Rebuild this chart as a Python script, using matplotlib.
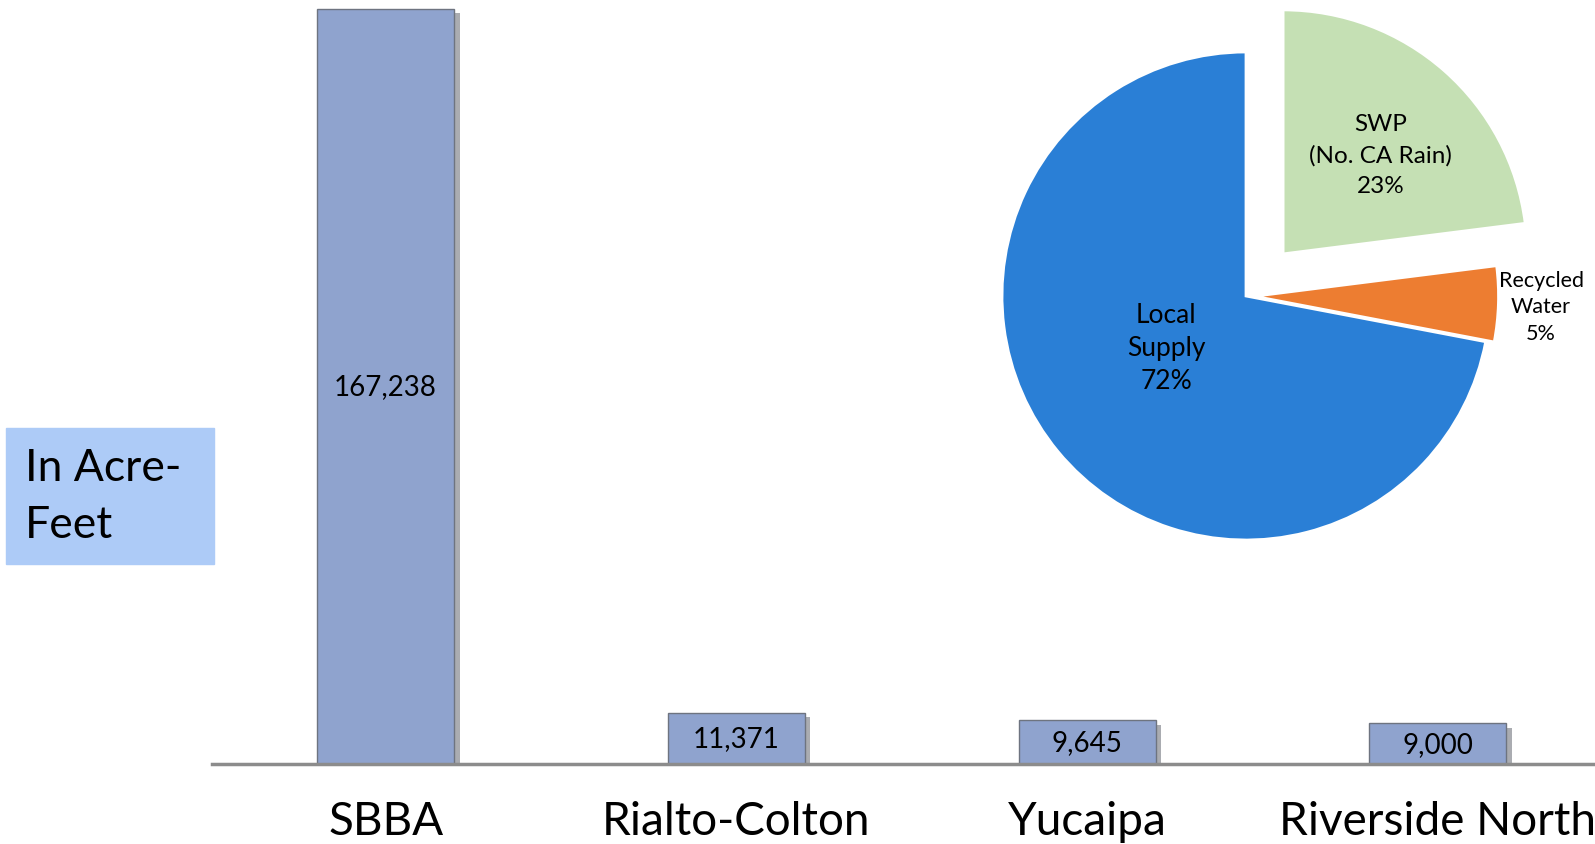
import matplotlib
matplotlib.use("Agg")
import matplotlib.pyplot as plt
import matplotlib.patheffects as pe
from matplotlib.patches import Rectangle
import numpy as np

# Donnees du graphique
basins = ["SBBA", "Rialto-Colton", "Yucaipa", "Riverside North"]
acre_feet = [167238, 11371, 9645, 9000]

sources = ["SWP\n(No. CA Rain)\n23%", "Recycled\nWater\n5%", "Local\nSupply\n72%"]
shares = [23, 5, 72]

W, H = 1595, 845
plt.rcParams["font.family"] = ["Lato", "DejaVu Sans"]
fig = plt.figure(figsize=(W / 100, H / 100), dpi=100)

# --- barres ---
ax = fig.add_axes([212 / W, (H - 765) / H, (W - 212) / W, 765 / H])
x = np.arange(len(basins))
bars = ax.bar(x, acre_feet, width=0.39, color="#8FA3CE", edgecolor="#6E7480", linewidth=1.0)
for b in bars:
    b.set_path_effects([pe.SimplePatchShadow(offset=(4, -3), alpha=0.4), pe.Normal()])
ax.bar_label(bars, labels=[f"{v:,}" for v in acre_feet], label_type="center", fontsize=20)
ax.set_xlim(-0.495, 3.448)
ax.set_ylim(0, 169400)
for s in ["top", "left", "right"]:
    ax.spines[s].set_visible(False)
ax.spines["bottom"].set_color("#8C8C8C")
ax.spines["bottom"].set_linewidth(2.5)
ax.set_yticks([])
ax.set_xticks(x)
ax.set_xticklabels(basins, fontsize=33)
ax.tick_params(axis="x", length=0, pad=26)

# --- camembert ---
R = 244
cx, cy = 1246, H - 297
half = 300
pax = fig.add_axes([(cx - half) / W, (cy - half) / H, 2 * half / W, 2 * half / H])
explode = [0.23, 0.035, 0.0]
wedges, _ = pax.pie(shares, colors=["#C5E0B4", "#ED7D31", "#2A7FD6"], startangle=90,
                    counterclock=False, explode=explode,
                    wedgeprops=dict(edgecolor="white", linewidth=2))
s = half / R
pax.set_xlim(-s, s)
pax.set_ylim(-s, s)
pax.set_aspect("equal")

# position des etiquettes (angle, rayon) depuis le centre du camembert
label_ang = [46.5, -2.0, 213.0]
label_r = [0.80, 1.21, 0.39]
label_fs = [17.5, 15.5, 19]
label_ls = [1.55, 1.4, 1.4]
for txt, a, r, fs, ls in zip(sources, label_ang, label_r, label_fs, label_ls):
    t = np.deg2rad(a)
    pax.text(r * np.cos(t), r * np.sin(t), txt, ha="center", va="center",
             fontsize=fs, linespacing=ls)

# --- encadre unite ---
fig.patches.append(Rectangle((6 / W, (H - 565) / H), 208 / W, 136 / H,
                             transform=fig.transFigure, color="#ADCBF7", zorder=0))
fig.text(25 / W, (H - 448) / H, "In Acre-\nFeet", fontsize=32, va="top", ha="left",
         linespacing=1.5)

fig.savefig("out.png", dpi=100)
